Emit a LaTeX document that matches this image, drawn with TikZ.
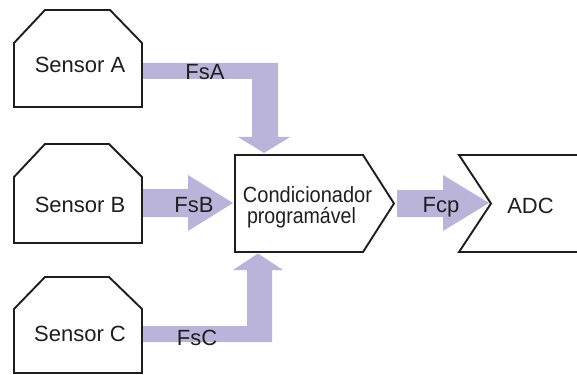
\documentclass[tikz,border=0pt]{standalone}
\usepackage{graphicx}
\usepackage{fontspec}
\setmainfont{Liberation Sans}
\definecolor{band}{RGB}{186,180,218}
\definecolor{edge}{RGB}{30,30,30}
\begin{document}
\begin{tikzpicture}[x=1pt,y=-1pt,
  outline/.style={draw=edge,line width=1.9pt,line join=miter,fill=white},
  flow/.style={fill=band,draw=none},
  lbl/.style={font=\fontsize{22}{23}\selectfont,text=black!88,inner sep=0pt,anchor=base}]
\useasboundingbox (0,0) rectangle (577,374);
\clip (0,0) rectangle (577,374);
% flows
\fill[flow] (142,63) -- (278,63) -- (278,137) -- (290,137) -- (264,153) -- (238,137) -- (252,137) -- (252,79) -- (142,79) -- cycle;
\fill[flow] (142,189) -- (188,189) -- (188,175) -- (233,203) -- (188,231) -- (188,217) -- (142,217) -- cycle;
\fill[flow] (142,342) -- (272,342) -- (272,270) -- (283,270) -- (258,253.5) -- (233,270) -- (247,270) -- (247,326) -- (142,326) -- cycle;
\fill[flow] (397,190) -- (443,190) -- (443,175) -- (489,203) -- (443,231) -- (443,217) -- (397,217) -- cycle;
% boxes
\draw[outline] (14,107) -- (14,43) -- (45,10) -- (110,10) -- (142,43) -- (142,107) -- cycle;
\draw[outline] (14,243) -- (14,177) -- (45,144) -- (109,144) -- (142,177) -- (142,243) -- cycle;
\draw[outline] (14,373) -- (14,309) -- (45,277) -- (109,277) -- (142,309) -- (142,373) -- cycle;
\draw[outline] (235,155) -- (363,155) -- (394,203.5) -- (363,252) -- (235,252) -- cycle;
\draw[outline] (585,155) -- (459,155) -- (491,203.5) -- (459,252) -- (585,252);
% labels
\node[lbl] (sa) at (80,72.5) {Sensor A};
\node[lbl] (sb) at (80,212.5) {Sensor B};
\node[lbl] (sc) at (80,341) {Sensor C};
\node[lbl] (fsa) at (205,80) {FsA};
\node[lbl] (fsb) at (194,212) {FsB};
\node[lbl] (fsc) at (197,345) {FsC};
\node[lbl] (fcp) at (441,212) {Fcp};
\node[lbl] (adc) at (530.5,213) {ADC};
\node[lbl] (c1) at (307.5,202) {\scalebox{0.91}[1]{Condicionador}};
\node[lbl] (c2) at (301.5,223.5) {\scalebox{0.89}[1]{programável}};
\end{tikzpicture}
\end{document}
